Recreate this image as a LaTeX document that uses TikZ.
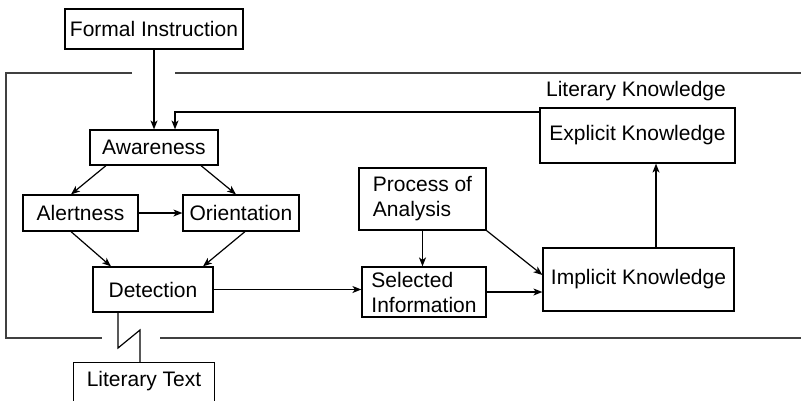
\documentclass[tikz,border=0pt]{standalone}
\usepackage{fontspec}
\setmainfont{Liberation Sans}
\usepackage{tikz}
\usetikzlibrary{arrows.meta}

\begin{document}
\begin{tikzpicture}[>={Stealth[length=9pt,width=7pt,inset=2.5pt]},x=1pt,y=-1pt,
    line width=1.2pt,
    every node/.style={font=\fontsize{21}{25}\selectfont,inner sep=0pt},
    box/.style={draw,minimum width=#1},
    frame/.style={line width=1.4pt,black!75}]
  \useasboundingbox (0,0) rectangle (801,400);
  % boxes
  \node[box=178,minimum height=40] (formal) at (154,29) {Formal Instruction};
  \node[box=128,minimum height=35] (aware) at (154,147.5) {Awareness};
  \node[box=115,minimum height=36] (alert) at (80.5,213) {Alertness};
  \node[box=116,minimum height=36] (orient) at (241,213) {Orientation};
  \node[box=120,minimum height=45] (detect) at (153,289.5) {Detection};
  \node[box=127,minimum height=62,align=left] (process) at (422.5,199) {Process of\\Analysis};
  \node[box=124,minimum height=50,align=left] (select) at (424,292) {Selected\\Information};
  \node[box=191,minimum height=63] (implicit) at (638.5,279.5) {Implicit Knowledge};
  \node[box=195,minimum height=55] (explicit) at (637.5,135.5) {Explicit Knowledge};
  \node (litknow) at (636,91) {Literary Knowledge};
  \node[minimum width=140,minimum height=37] (littext) at (144,381.5) {Literary Text};
  \draw (littext.south west) -- (littext.north west) -- (littext.north east) -- (littext.south east);

  % frame
  \draw[frame] (132,73) -- (6,73) -- (6,338) -- (102,338);
  \draw[frame] (175,73) -- (801,73);
  \draw[frame] (160,338) -- (801,338);

  % arrows
  \draw[->] (formal) -- (aware);
  \coordinate (fb) at (175,112);
  \draw[->] (explicit.west |- fb) -- (fb) -- (fb |- aware.north);
  \draw[->] ([xshift=-48pt]aware.south) -- ([xshift=-9.5pt]alert.north);
  \draw[->] ([xshift=47pt]aware.south) -- ([xshift=-5pt]orient.north);
  \draw[->] (alert) -- (orient);
  \draw[->] ([xshift=-9.5pt]alert.south) -- ([xshift=-42pt]detect.north);
  \draw[->] ([xshift=4pt]orient.south) -- ([xshift=50pt]detect.north);
  \draw[->] (detect.east) -- (detect.east -| select.west);
  \draw[->] (process.south) -- (process.south |- select.north);
  \draw[->] (process.south east) -- ([yshift=4.5pt]implicit.west);
  \draw[->] (select.east) -- (select.east -| implicit.west);
  \draw[->] ([xshift=17.5pt]implicit.north) -- ([xshift=18.5pt]explicit.south);

  % break to the text
  \coordinate (brkA) at (118,348);
  \coordinate (brkB) at (140,330);
  \draw (detect.south -| brkA) -- (brkA) -- (brkB) -- (brkB |- littext.north);
\end{tikzpicture}
\end{document}
